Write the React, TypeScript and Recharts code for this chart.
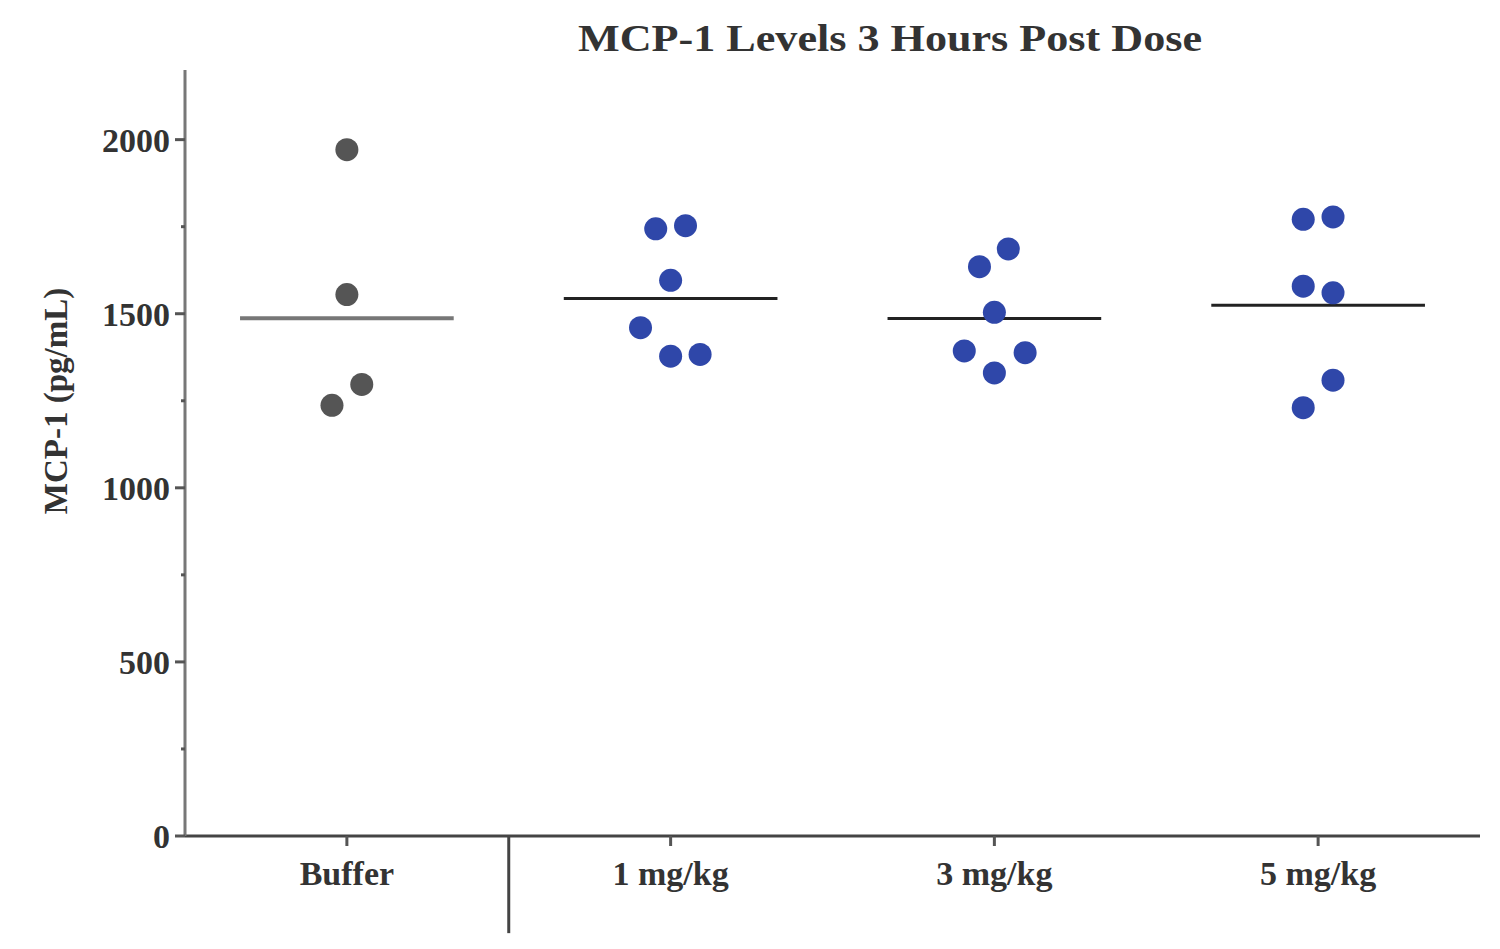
import React from 'react';
import { ComposedChart, Scatter, XAxis, YAxis, ReferenceLine } from 'recharts';

const categories = ['Buffer', '1 mg/kg', '3 mg/kg', '5 mg/kg'];
const categoryPositions = [0.5, 1.5, 2.5, 3.5];

const bufferValues = [1971, 1555, 1297, 1237];
const bufferOffsets = [0, 0, 0.046, -0.046];
const dose1Values = [1744, 1753, 1596, 1460, 1378, 1383];
const dose1Offsets = [-0.046, 0.046, 0, -0.093, 0, 0.091];
const dose3Values = [1635, 1686, 1504, 1393, 1388, 1330];
const dose3Offsets = [-0.046, 0.043, 0, -0.093, 0.095, 0];
const dose5Values = [1771, 1778, 1579, 1560, 1309, 1230];
const dose5Offsets = [-0.046, 0.046, -0.046, 0.046, 0.046, -0.046];

const groupMeans = [1487, 1544, 1486, 1524];
const yTicks = [0, 250, 500, 750, 1000, 1250, 1500, 1750, 2000];

const FONT = '"Liberation Serif", "DejaVu Serif", serif';
const TEXT = '#333333';
const GRAY_DOT = '#555555';
const BLUE_DOT = '#2f47a9';

const build = (idx: number, values: number[], offsets: number[]) =>
  values.map((v, i) => ({ x: categoryPositions[idx] + offsets[i], y: v }));

const bufferData = build(0, bufferValues, bufferOffsets);
const dose1Data = build(1, dose1Values, dose1Offsets);
const dose3Data = build(2, dose3Values, dose3Offsets);
const dose5Data = build(3, dose5Values, dose5Offsets);

const dot = (color: string) => (props: any) => (
  <circle cx={props.cx} cy={props.cy} r={11.5} fill={color} />
);

const YTick = (props: any) => {
  const { x, y, payload } = props;
  const major = payload.value % 500 === 0;
  return (
    <g>
      <line x1={x} x2={x - (major ? 10 : 4)} y1={y} y2={y} stroke="#555" strokeWidth={3} />
      {major && (
        <text
          x={x - 15}
          y={y}
          dy="0.355em"
          textAnchor="end"
          fontFamily={FONT}
          fontWeight="bold"
          fontSize={34}
          fill={TEXT}
        >
          {payload.value}
        </text>
      )}
    </g>
  );
};

const YLabel = (props: any) => {
  const vb = props.viewBox;
  const cx = vb.x + 55;
  const cy = vb.y + vb.height / 2 - 52;
  return (
    <text
      x={cx}
      y={cy}
      dy="0.35em"
      textAnchor="middle"
      transform={`rotate(-90, ${cx}, ${cy})`}
      fontFamily={FONT}
      fontWeight="bold"
      fontSize={33}
      fill={TEXT}
    >
      MCP-1 (pg/mL)
    </text>
  );
};

export default function App() {
  return (
    <div style={{ position: 'absolute', left: 0, top: 0, width: 1500, height: 949, background: '#fff' }}>
      <svg width={1500} height={80} style={{ position: 'absolute', left: 0, top: 0 }}>
        <text
          x={890}
          y={51}
          textAnchor="middle"
          textLength={624}
          lengthAdjust="spacingAndGlyphs"
          fontFamily={FONT}
          fontWeight="bold"
          fontSize={37}
          fill={TEXT}
        >
          MCP-1 Levels 3 Hours Post Dose
        </text>
      </svg>
      <div style={{ position: 'absolute', left: 0, top: 0 }}>
        <ComposedChart width={1500} height={949} margin={{ top: 70, right: 20, bottom: 0, left: 0 }}>
          <XAxis
            type="number"
            dataKey="x"
            domain={[0, 4]}
            ticks={categoryPositions}
            interval={0}
            allowDataOverflow
            height={113}
            tickSize={10}
            tickMargin={15}
            tickFormatter={(v: number) => categories[categoryPositions.indexOf(v)] ?? ''}
            axisLine={{ stroke: '#444', strokeWidth: 3 }}
            tickLine={{ stroke: '#555', strokeWidth: 3 }}
            tick={{ fontFamily: FONT, fontWeight: 'bold', fontSize: 34, fill: TEXT }}
          />
          <YAxis
            type="number"
            dataKey="y"
            domain={[0, 2200]}
            ticks={yTicks}
            interval={0}
            width={185}
            tickSize={0}
            tickMargin={0}
            tickLine={false}
            axisLine={{ stroke: '#777', strokeWidth: 3 }}
            tick={<YTick />}
            label={<YLabel />}
          />
          <Scatter data={bufferData} shape={dot(GRAY_DOT)} isAnimationActive={false} />
          <Scatter data={dose1Data} shape={dot(BLUE_DOT)} isAnimationActive={false} />
          <Scatter data={dose3Data} shape={dot(BLUE_DOT)} isAnimationActive={false} />
          <Scatter data={dose5Data} shape={dot(BLUE_DOT)} isAnimationActive={false} />
          {groupMeans.map((m, i) => (
            <ReferenceLine
              key={i}
              segment={[
                { x: categoryPositions[i] - 0.33, y: m },
                { x: categoryPositions[i] + 0.33, y: m },
              ]}
              stroke={i === 0 ? '#777' : '#222'}
              strokeWidth={i === 0 ? 4 : 3}
              ifOverflow="visible"
            />
          ))}
          <ReferenceLine
            segment={[
              { x: 1, y: 0 },
              { x: 1, y: -279 },
            ]}
            stroke="#444"
            strokeWidth={3}
            ifOverflow="visible"
          />
        </ComposedChart>
      </div>
    </div>
  );
}
